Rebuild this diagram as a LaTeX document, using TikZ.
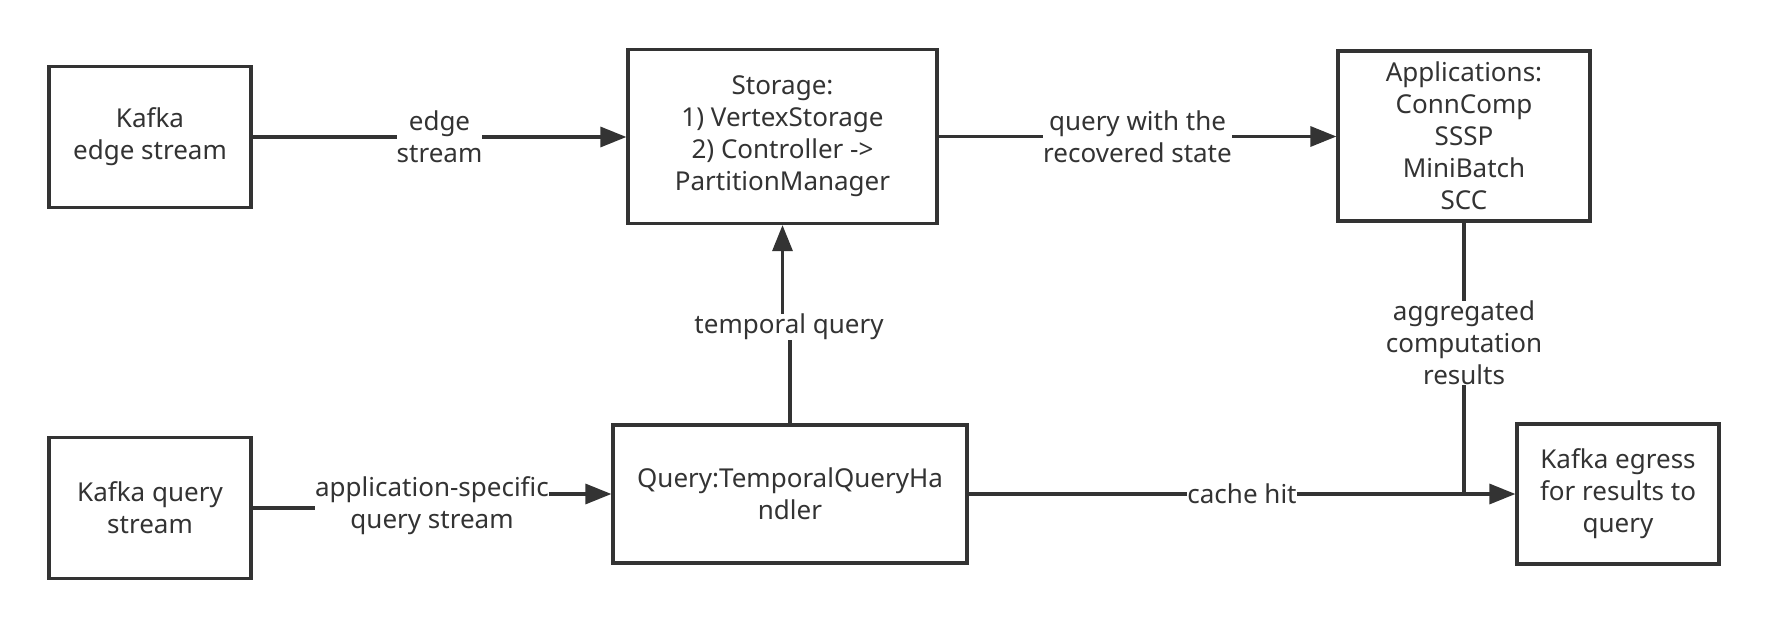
\documentclass[tikz,border=0pt]{standalone}
\usepackage{fontspec}
\setmainfont{Noto Sans}
\usetikzlibrary{arrows.meta}
\definecolor{lc}{HTML}{333333}
\begin{document}
\begin{tikzpicture}[x=1pt,y=-1pt,
  every node/.style={font=\fontsize{26}{32}\selectfont, text=lc},
  box/.style={draw=lc, line width=3.2pt, align=center, inner sep=0pt},
  lbl/.style={fill=white, inner sep=0pt, align=center},
  conn/.style={draw=lc, line width=3.2pt},
  arr/.style={conn, -{Triangle[length=26pt,width=20pt]}}]
\useasboundingbox (0,0) rectangle (1768,628);
\fill[white] (0,0) rectangle (1768,628);
% boxes
\node[box, minimum width=202pt, minimum height=141pt] (ke) at (150,137) {Kafka\\edge stream};
\node[box, minimum width=309pt, minimum height=174pt] (st) at (782.5,136.5) {Storage:\\1) VertexStorage\\2) Controller ->\\PartitionManager};
\node[box, minimum width=252pt, minimum height=170pt] (app) at (1464,136) {Applications:\\ConnComp\\SSSP\\MiniBatch\\SCC};
\node[box, minimum width=202pt, minimum height=141pt] (kq) at (150,508) {Kafka query\\stream};
\node[box, minimum width=354pt, minimum height=138pt] (q) at (790,494) {Query:TemporalQueryHa\\ndler};
\node[box, minimum width=202pt, minimum height=140pt] (eg) at (1618,494) {Kafka egress\\for results to\\query};
% straight connectors
\draw[arr] (ke.east) -- node[lbl] {edge\\stream} (st.west |- ke.east);
\draw[arr] (st.east) -- node[lbl] {query with the\\recovered state} (app.west |- st.east);
\draw[arr] (q.east) -- node[lbl] {cache hit} (eg.west |- q.east);
% aggregated results
\coordinate (agc) at (1464,343);
\draw[conn] (app.south) -- (app.south |- q.east);
\node[lbl] (ag) at (agc) {aggregated\\computation\\results};
% temporal query
\coordinate (tqc) at (789,327);
\draw[arr] (q.north) -- (q.north |- tqc) -- (st.south |- tqc) -- (st.south);
\node[lbl] (tq) at (tqc) {temporal query};
% application-specific query stream
\coordinate (aqc) at (432,506);
\draw[arr] (kq.east) -- (kq.east -| aqc) -- (q.west -| aqc) -- (q.west);
\node[lbl] (aq) at (aqc) {application-specific\\query stream};
\end{tikzpicture}
\end{document}
